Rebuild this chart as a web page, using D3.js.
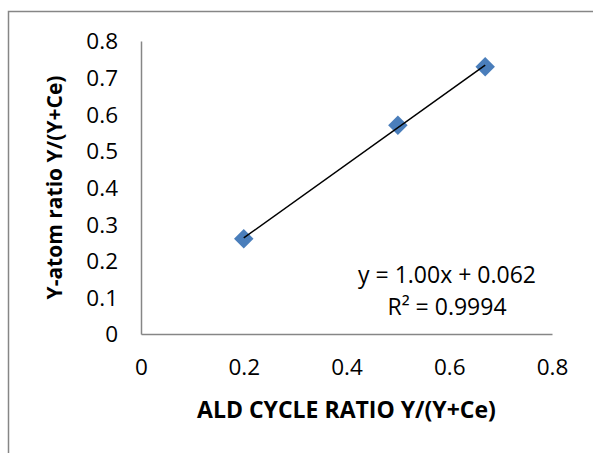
<!DOCTYPE html>
<html>
<head>
<meta charset="utf-8">
<script src="https://cdnjs.cloudflare.com/ajax/libs/d3/7.8.5/d3.min.js"></script>
<style>
  body { margin: 0; background: #fff; }
  svg { display: block; font-family: "Open Sans", sans-serif; }
</style>
</head>
<body>
<svg id="svg" width="593" height="453"></svg>
<script>
// data
var cycleRatio = [0.2, 0.5, 0.67];
var atomRatio = [0.26, 0.57, 0.73];
var xTicks = [0, 0.2, 0.4, 0.6, 0.8];
var yTicks = [0, 0.1, 0.2, 0.3, 0.4, 0.5, 0.6, 0.7, 0.8];
var eqLabel = "y = 1.00x + 0.062";
var r2Label = "R² = 0.9994";

var svg = d3.select("#svg"),
    width = 593,
    height = 453;

// plot area edges (don't call it "top", that's window.top)
var pLeft = 141, pRight = 552, pTop = 41, pBottom = 334;

var x = d3.scaleLinear().domain([0, 0.8]).range([pLeft, pRight]);
var y = d3.scaleLinear().domain([0, 0.8]).range([pBottom, pTop]);

// chart border (runs off the picture to the right/bottom)
svg.append("rect")
    .attr("x", 8.5).attr("y", 11.5)
    .attr("width", 700).attr("height", 600)
    .attr("fill", "none")
    .attr("stroke", "#868686")
    .attr("stroke-width", 1.5);

var fmt = function(d){ return d === 0 ? "0" : d3.format(".1f")(d); };

// axes
var xAxis = d3.axisBottom(x).tickValues(xTicks).tickSize(0).tickPadding(25).tickFormat(fmt);
var yAxis = d3.axisLeft(y).tickValues(yTicks).tickSize(0).tickPadding(23).tickFormat(fmt);

var gx = svg.append("g").attr("transform", "translate(0," + pBottom + ")").call(xAxis);
var gy = svg.append("g").attr("transform", "translate(" + pLeft + ",0)").call(yAxis);

[gx, gy].forEach(function(g){
  g.select(".domain").attr("stroke", "#868686").attr("stroke-width", 1.5);
  g.selectAll("text")
    .attr("font-family", "'Open Sans', sans-serif")
    .attr("font-size", 22.5)
    .attr("fill", "#000");
});
gy.selectAll("text").attr("dy", "0.35em");

// axis titles
svg.append("text")
    .attr("x", (pLeft + pRight) / 2).attr("y", 418)
    .attr("text-anchor", "middle")
    .attr("font-size", 23).attr("font-weight", "bold")
    .text("ALD CYCLE RATIO Y/(Y+Ce)");

svg.append("text")
    .attr("transform", "translate(62," + ((pTop + pBottom) / 2) + ") rotate(-90)")
    .attr("text-anchor", "middle")
    .attr("font-size", 21).attr("font-weight", "bold")
    .text("Y-atom ratio Y/(Y+Ce)");

// least squares trendline
var pts = cycleRatio.map(function(d, i){ return [d, atomRatio[i]]; });
var mx = d3.mean(cycleRatio), my = d3.mean(atomRatio);
var sxy = d3.sum(pts, function(p){ return (p[0]-mx)*(p[1]-my); });
var sxx = d3.sum(pts, function(p){ return (p[0]-mx)*(p[0]-mx); });
var slope = sxy / sxx, icpt = my - slope * mx;
var ext = d3.extent(cycleRatio);

// markers
svg.selectAll("path.pt")
  .data(pts)
  .enter().append("path")
    .attr("class", "pt")
    .attr("d", d3.symbol().type(d3.symbolSquare).size(190))
    .attr("transform", function(d){ return "translate(" + x(d[0]) + "," + y(d[1]) + ") rotate(45)"; })
    .attr("fill", "#4A7EBB");

// trendline on top of the markers
svg.append("line")
    .attr("x1", x(ext[0])).attr("y1", y(slope*ext[0] + icpt))
    .attr("x2", x(ext[1])).attr("y2", y(slope*ext[1] + icpt))
    .attr("stroke", "#000")
    .attr("stroke-width", 1.5);

// equation label
var eq = svg.append("g").attr("font-size", 23).attr("text-anchor", "middle");
eq.append("text").attr("x", 447).attr("y", 283).text(eqLabel);
eq.append("text").attr("x", 447).attr("y", 315).text(r2Label);
</script>
</body>
</html>
